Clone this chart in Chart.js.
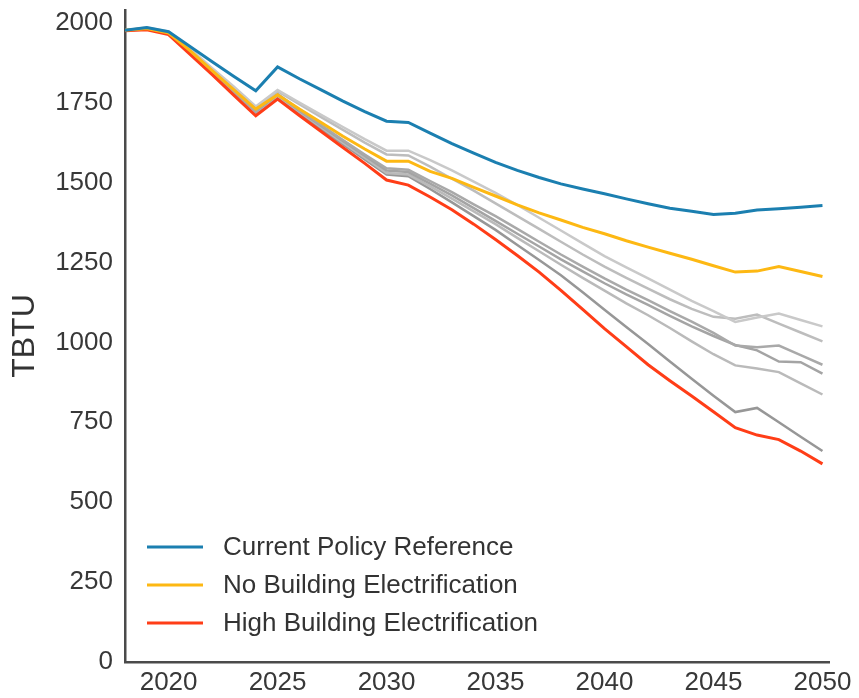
<!DOCTYPE html>
<html>
<head>
<meta charset="utf-8">
<script src="https://cdn.jsdelivr.net/npm/chart.js@4.4.1/dist/chart.umd.min.js"></script>
<style>
  html, body { margin: 0; padding: 0; background: #fff; }
</style>
</head>
<body>
<canvas id="chart" width="859" height="698"></canvas>
<script>
// Years on the x axis
const years = [2018, 2019, 2020, 2021, 2022, 2023, 2024, 2025, 2026, 2027, 2028,
  2029, 2030, 2031, 2032, 2033, 2034, 2035, 2036, 2037, 2038, 2039, 2040,
  2041, 2042, 2043, 2044, 2045, 2046, 2047, 2048, 2049, 2050];

// Highlighted scenarios (TBTU)
const currentPolicy = [1977, 1985, 1972, 1925, 1878, 1832, 1787, 1862, 1825, 1790, 1755,
  1722, 1692, 1688, 1655, 1622, 1592, 1563, 1538, 1516, 1496, 1480, 1465,
  1449, 1434, 1420, 1410, 1400, 1404, 1414, 1418, 1423, 1428];
const noElectrification = [1977, 1982, 1968, 1912, 1850, 1790, 1730, 1775, 1730, 1688, 1645,
  1605, 1567, 1567, 1535, 1513, 1485, 1458, 1430, 1405, 1383, 1360, 1340,
  1318, 1298, 1279, 1260, 1240, 1220, 1223, 1237, 1222, 1206];
const highElectrification = [1975, 1978, 1963, 1900, 1838, 1773, 1709, 1761, 1710, 1660, 1610,
  1560, 1508, 1492, 1455, 1415, 1370, 1322, 1272, 1220, 1163, 1103, 1043,
  987, 930, 880, 832, 783, 733, 710, 696, 660, 620];

// Other scenarios, drawn in grey
const other1 = [1977, 1985, 1972, 1918, 1858, 1800, 1738, 1790, 1750, 1712, 1674,
  1636, 1600, 1600, 1570, 1538, 1503, 1468, 1430, 1390, 1350, 1310, 1270,
  1235, 1200, 1165, 1130, 1098, 1064, 1078, 1090, 1070, 1050];
const other2 = [1977, 1984, 1970, 1914, 1853, 1793, 1733, 1786, 1745, 1705, 1665,
  1625, 1588, 1585, 1550, 1512, 1475, 1435, 1395, 1355, 1315, 1275, 1237,
  1202, 1168, 1135, 1105, 1080, 1074, 1087, 1059, 1031, 1003];
const other3 = [1977, 1983, 1968, 1910, 1848, 1785, 1725, 1778, 1728, 1680, 1633,
  1588, 1545, 1540, 1505, 1470, 1432, 1395, 1355, 1315, 1275, 1237, 1200,
  1165, 1132, 1098, 1065, 1030, 990, 985, 990, 960, 930];
const other4 = [1977, 1983, 1967, 1908, 1845, 1782, 1722, 1775, 1725, 1677, 1630,
  1584, 1538, 1533, 1497, 1460, 1420, 1380, 1340, 1300, 1260, 1222, 1185,
  1150, 1117, 1083, 1050, 1020, 992, 975, 940, 938, 902];
const other5 = [1977, 1983, 1966, 1906, 1843, 1780, 1720, 1772, 1722, 1673, 1625,
  1578, 1530, 1525, 1488, 1450, 1410, 1370, 1327, 1285, 1243, 1202, 1162,
  1122, 1085, 1045, 1003, 963, 928, 918, 907, 872, 837];
const other6 = [1976, 1982, 1964, 1904, 1840, 1776, 1715, 1768, 1718, 1668, 1620,
  1572, 1525, 1520, 1480, 1438, 1395, 1352, 1305, 1258, 1210, 1157, 1102,
  1048, 995, 940, 886, 833, 782, 795, 750, 705, 660];

const yTicks = [0, 250, 500, 750, 1000, 1250, 1500, 1750, 2000];
const xTicks = [2020, 2025, 2030, 2035, 2040, 2045, 2050];

const toPoints = values => values.map((v, i) => ({ x: years[i], y: v }));

const mainLines = [
    { label: 'Current Policy Reference', data: currentPolicy, color: '#1b7fb0' },
    { label: 'No Building Electrification', data: noElectrification, color: '#fdb813' },
    { label: 'High Building Electrification', data: highElectrification, color: '#ff3d17' }
];
const greyLines = [
    { data: other1, color: '#c9c9c9' },
    { data: other2, color: '#bdbdbd' },
    { data: other3, color: '#a9a9a9' },
    { data: other4, color: '#a4a4a4' },
    { data: other5, color: '#bababa' },
    { data: other6, color: '#979797' }
];

const datasets = [];
mainLines.forEach(s => datasets.push({
    label: s.label,
    data: toPoints(s.data),
    borderColor: s.color,
    borderWidth: 3,
    pointRadius: 0,
    tension: 0,
    inLegend: true
}));
greyLines.forEach((s, i) => datasets.push({
    label: 'Scenario ' + (i + 1),
    data: toPoints(s.data),
    borderColor: s.color,
    borderWidth: 2.5,
    pointRadius: 0,
    tension: 0,
    inLegend: false
}));

// legend drawn inside the plot, bottom left
const insideLegend = {
    id: 'insideLegend',
    afterDatasetsDraw(chart) {
        const ctx = chart.ctx;
        const area = chart.chartArea;
        const items = chart.data.datasets.filter(d => d.inLegend);
        ctx.save();
        ctx.font = '26px "Liberation Sans", Arial, sans-serif';
        ctx.textBaseline = 'middle';
        ctx.textAlign = 'left';
        items.forEach((ds, i) => {
            const y = area.bottom - 115 + i * 38;
            ctx.strokeStyle = ds.borderColor;
            ctx.lineWidth = 3;
            ctx.beginPath();
            ctx.moveTo(area.left + 22, y);
            ctx.lineTo(area.left + 78, y);
            ctx.stroke();
            ctx.fillStyle = '#333333';
            ctx.fillText(ds.label, area.left + 98, y + 1);
        });
        ctx.restore();
    }
};

const tickFont = { family: '"Liberation Sans", Arial, sans-serif', size: 26 };

new Chart(document.getElementById('chart'), {
    type: 'line',
    data: { datasets: datasets },
    plugins: [insideLegend],
    options: {
        responsive: false,
        animation: false,
        devicePixelRatio: 1,
        layout: { padding: { top: 10, right: 30, bottom: 0, left: 0 } },
        plugins: {
            legend: { display: false },
            tooltip: { enabled: false }
        },
        scales: {
            x: {
                type: 'linear',
                min: 2018,
                max: 2050.3,
                grid: { display: false, drawTicks: false },
                border: { display: true, color: '#4a4a4a', width: 2.5 },
                afterBuildTicks: axis => { axis.ticks = xTicks.map(v => ({ value: v })); },
                afterFit: axis => {
                    axis.height = 36;
                    axis.paddingLeft = 0;
                    axis.paddingRight = 0;
                },
                ticks: {
                    padding: 5,
                    color: '#383838',
                    font: tickFont,
                    maxRotation: 0,
                    autoSkip: false,
                    callback: v => String(v)
                }
            },
            y: {
                min: 0,
                max: 2040,
                grid: { display: false, drawTicks: false },
                border: { display: true, color: '#4a4a4a', width: 2.5 },
                afterBuildTicks: axis => { axis.ticks = yTicks.map(v => ({ value: v })); },
                afterFit: axis => {
                    axis.width = 125;
                    axis.paddingTop = 0;
                    axis.paddingBottom = 0;
                },
                title: {
                    display: true,
                    text: 'TBTU',
                    color: '#333333',
                    font: { family: '"Liberation Sans", Arial, sans-serif', size: 32 },
                    padding: { top: 6, bottom: 0 }
                },
                ticks: {
                    padding: 12,
                    color: '#383838',
                    font: tickFont,
                    callback: v => String(v)
                }
            }
        }
    }
});
</script>
</body>
</html>
